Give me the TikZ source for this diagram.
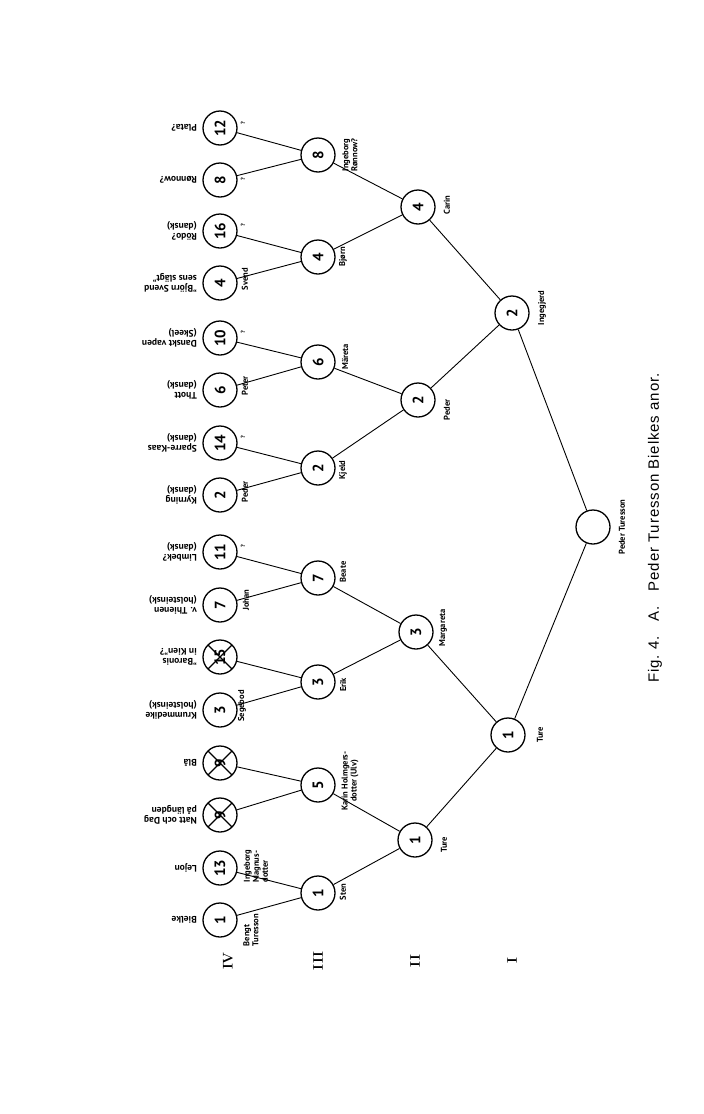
\documentclass[tikz,border=0pt]{standalone}
\usepackage{fontspec}
\newfontfamily\handfont{PT Sans}
\newfontfamily\capfont[LetterSpace=6]{Liberation Sans}
\usepackage{tikz}
\usetikzlibrary{positioning}
\tikzstyle{anc} = [
    circle, draw=black, line width=1.3pt, minimum size=34pt, inner sep=0pt,
    rotate=90, font=\handfont\bfseries\fontsize{15}{15}\selectfont
]
\tikzstyle{unk} = [anc, path picture={
    \draw[line width=1.3pt] (path picture bounding box.north west) -- (path picture bounding box.south east)
        (path picture bounding box.north east) -- (path picture bounding box.south west);}]
\tikzstyle{gname} = [rotate=90, inner sep=1pt, align=center,
    font=\handfont\bfseries\fontsize{8.5}{9}\selectfont]
\tikzstyle{fam} = [rotate=180, anchor=west, inner sep=1pt, align=left,
    font=\handfont\bfseries\fontsize{9.5}{10.5}\selectfont]
\tikzstyle{qm} = [rotate=90, inner sep=0pt, font=\handfont\bfseries\fontsize{6}{6}\selectfont]
\tikzstyle{gen} = [rotate=90, inner sep=0pt, font=\bfseries\fontsize{14}{14}\selectfont]
\tikzstyle{link} = [line width=0.9pt, draw=black]

\begin{document}
\begin{tikzpicture}[x=1pt, y=-1pt]
        \useasboundingbox (0,0) rectangle (704,1114);

        % Generation IV
        \node[anc] (bielke) at (220,920) {1};
        \node[anc] (lejon) at (220,868) {13};
        \node[unk] (nattdag) at (220,815) {9};
        \node[unk] (blaa) at (220,763) {9};
        \node[anc] (krumm) at (220,710) {3};
        \node[unk] (kien) at (220,657) {15};
        \node[anc] (thienen) at (220,605) {7};
        \node[anc] (limbek) at (220,552) {11};
        \node[anc] (kyrning) at (220,495) {2};
        \node[anc] (sparre) at (220,443) {14};
        \node[anc] (thott) at (220,390) {6};
        \node[anc] (skeel) at (220,338) {10};
        \node[anc] (bjsvend) at (220,283) {4};
        \node[anc] (rodo) at (220,231) {16};
        \node[anc] (ronnow) at (220,180) {8};
        \node[anc] (plata) at (220,128) {12};

        % Generation III
        \node[anc] (sten) at (318,893) {1};
        \node[anc] (karin) at (318,785) {5};
        \node[anc] (erik) at (318,682) {3};
        \node[anc] (beate) at (318,578) {7};
        \node[anc] (kjeld) at (318,468) {2};
        \node[anc] (mareta) at (318,362) {6};
        \node[anc] (bjorn) at (318,257) {4};
        \node[anc] (ingeborg) at (318,155) {8};

        % Generation II
        \node[anc] (tureII) at (415,840) {1};
        \node[anc] (margareta) at (416,632) {3};
        \node[anc] (pederII) at (418,400) {2};
        \node[anc] (carin) at (418,207) {4};

        % Generation I
        \node[anc] (tureI) at (508,735) {1};
        \node[anc] (ingegjerd) at (512,313) {2};
        \node[anc] (peder) at (593,527) {};

        \draw[link] (bielke) -- (sten);
        \draw[link] (lejon) -- (sten);
        \draw[link] (nattdag) -- (karin);
        \draw[link] (blaa) -- (karin);
        \draw[link] (krumm) -- (erik);
        \draw[link] (kien) -- (erik);
        \draw[link] (thienen) -- (beate);
        \draw[link] (limbek) -- (beate);
        \draw[link] (kyrning) -- (kjeld);
        \draw[link] (sparre) -- (kjeld);
        \draw[link] (thott) -- (mareta);
        \draw[link] (skeel) -- (mareta);
        \draw[link] (bjsvend) -- (bjorn);
        \draw[link] (rodo) -- (bjorn);
        \draw[link] (ronnow) -- (ingeborg);
        \draw[link] (plata) -- (ingeborg);
        \draw[link] (sten) -- (tureII);
        \draw[link] (karin) -- (tureII);
        \draw[link] (erik) -- (margareta);
        \draw[link] (beate) -- (margareta);
        \draw[link] (kjeld) -- (pederII);
        \draw[link] (mareta) -- (pederII);
        \draw[link] (bjorn) -- (carin);
        \draw[link] (ingeborg) -- (carin);
        \draw[link] (tureII) -- (tureI);
        \draw[link] (margareta) -- (tureI);
        \draw[link] (pederII) -- (ingegjerd);
        \draw[link] (carin) -- (ingegjerd);
        \draw[link] (tureI) -- (peder);
        \draw[link] (ingegjerd) -- (peder);

        % Families
        \node[fam] (f-bielke) at (198,920) {Bielke};
        \node[fam] (f-lejon) at (198,868) {Lejon};
        \node[fam] (f-nattdag) at (198,815) {Natt och Dag\\på längden};
        \node[fam] (f-blaa) at (198,763) {Blå};
        \node[fam] (f-krumm) at (198,710) {Krummedike\\(holsteinsk)};
        \node[fam] (f-kien) at (198,657) {”Baronis\\in Kien”?};
        \node[fam] (f-thienen) at (198,605) {v. Thienen\\(holsteinsk)};
        \node[fam] (f-limbek) at (198,552) {Limbek?\\(dansk)};
        \node[fam] (f-kyrning) at (198,495) {Kyrning\\(dansk)};
        \node[fam] (f-sparre) at (198,443) {Sparre-Kaas\\(dansk)};
        \node[fam] (f-thott) at (198,390) {Thott\\(dansk)};
        \node[fam] (f-skeel) at (198,338) {Danskt vapen\\(Skeel)};
        \node[fam] (f-bjsvend) at (198,283) {”Björn Svend\\sens slägt”};
        \node[fam] (f-rodo) at (198,231) {Rödo?\\(dansk)};
        \node[fam] (f-ronnow) at (198,180) {Rønnow?};
        \node[fam] (f-plata) at (198,128) {Plata?};

        % Names
        \node[gname, align=left] (n-bengt) at (251,930) {Bengt\\Turesson};
        \node[gname, align=left] (n-ingeborgM) at (256,866) {Ingeborg\\Magnus-\\dotter};
        \node[gname] (n-segebod) at (242,706) {Segebod};
        \node[gname] (n-johan) at (246,600) {Johan};
        \node[gname] (n-pederIV) at (245,492) {Peder};
        \node[gname] (n-peter) at (245,386) {Peter};
        \node[gname] (n-svend) at (245,279) {Svend};
        \node[qm] (q-limbek) at (243,546) {?};
        \node[qm] (q-sparre) at (243,437) {?};
        \node[qm] (q-skeel) at (243,332) {?};
        \node[qm] (q-rodo) at (243,225) {?};
        \node[qm] (q-ronnow) at (243,179) {?};
        \node[qm] (q-plata) at (243,123) {?};
        \node[gname] (n-sten) at (343,892) {Sten};
        \node[gname] (n-karin) at (350,781) {Karin Holmgers-\\dotter (Ulv)};
        \node[gname] (n-erik) at (343,685) {Erik};
        \node[gname] (n-beate) at (343,572) {Beate};
        \node[gname] (n-kjeld) at (343,470) {Kjeld};
        \node[gname] (n-mareta) at (345,357) {Märeta};
        \node[gname] (n-bjorn) at (343,257) {Bjørn};
        \node[gname, align=right] (n-ingeborg) at (350,155) {Ingeborg\\Rønnow?};
        \node[gname] (n-tureII) at (444,845) {Ture};
        \node[gname] (n-margareta) at (443,628) {Margareta};
        \node[gname] (n-pederII) at (447,410) {Peder};
        \node[gname] (n-carin) at (447,205) {Carin};
        \node[gname] (n-tureI) at (540,735) {Ture};
        \node[gname] (n-ingegjerd) at (542,308) {Ingegjerd};
        \node[gname] (n-peder) at (622,527) {Peder Turesson};

        % Generations
        \node[gen] (g4) at (228,961) {IV};
        \node[gen] (g3) at (318,961) {III};
        \node[gen] (g2) at (415,961) {II};
        \node[gen] (g1) at (512,961) {I};

        \node[rotate=90, font=\capfont\fontsize{15}{16}\selectfont] (caption) at (655,528)
            {Fig.~4.\quad A.\quad Peder Turesson Bielkes anor.};
    \end{tikzpicture}
\end{document}
